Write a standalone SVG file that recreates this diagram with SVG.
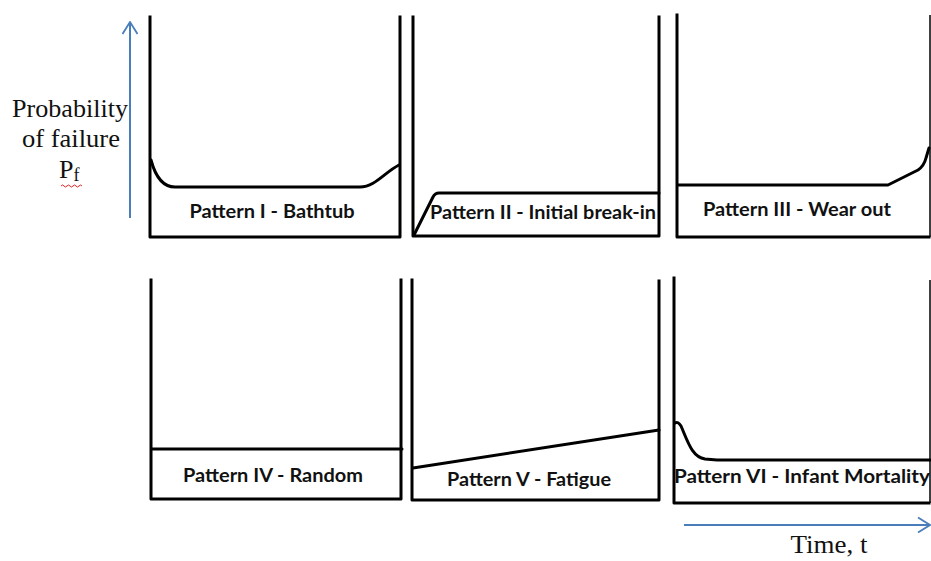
<svg xmlns="http://www.w3.org/2000/svg" width="931" height="561" viewBox="0 0 931 561">
<style>
.wall{fill:none;stroke:#000;stroke-width:3;stroke-linecap:square;stroke-linejoin:round}
.thin{fill:none;stroke:#000;stroke-width:1.5}
.curve{fill:none;stroke:#000;stroke-width:3;stroke-linejoin:round;stroke-linecap:round}
.lbl{font-family:Lato,"Open Sans","Liberation Sans",sans-serif;font-weight:bold;font-size:19px;fill:#111}
.ax{font-family:"Liberation Serif","Times New Roman",serif;font-size:26px;fill:#111}
.arrow{fill:none;stroke:#4a7ebb;stroke-width:2}
</style>
<defs>
<marker id="chev" viewBox="0 0 14 16" refX="13" refY="8" markerWidth="14" markerHeight="16" markerUnits="userSpaceOnUse" orient="auto">
<path d="M1,0.5 L13,8 L1,15.5" fill="none" stroke="#4a7ebb" stroke-width="1.8"/>
</marker>
</defs>
<rect width="931" height="561" fill="#fff"/>
<g id="axis-y">
<line class="arrow" x1="130" y1="218" x2="130" y2="22" marker-end="url(#chev)"/>
<text class="ax" x="70" y="117" text-anchor="middle" textLength="116" lengthAdjust="spacingAndGlyphs">Probability</text>
<text class="ax" x="71" y="147" text-anchor="middle" textLength="98" lengthAdjust="spacingAndGlyphs">of failure</text>
<text class="ax" x="59" y="178">P<tspan font-size="18" dy="3">f</tspan></text>
<path d="M61,186 q1.5,-2 3,0 t3,0 t3,0 t3,0 t3,0 t3,0 t3,0" fill="none" stroke="#d22" stroke-width="1"/>
</g>
<g id="axis-x">
<line class="arrow" x1="684" y1="525" x2="930" y2="525" marker-end="url(#chev)"/>
<text class="ax" x="829" y="553" text-anchor="middle" textLength="77" lengthAdjust="spacingAndGlyphs">Time, t</text>
</g>
<g id="p1">
<path class="wall" d="M150,17 V237 H400 V17"/>
<path class="curve" d="M151,160 C155,175 162,187 175,187 H360 C375,187 385,172 399,165"/>
<text class="lbl" x="272" y="218" text-anchor="middle" textLength="165" lengthAdjust="spacingAndGlyphs">Pattern I - Bathtub</text>
</g>
<g id="p2">
<path class="wall" d="M413,17 V236 H659 V17"/>
<path class="curve" d="M414,235 L433,197 Q435,193 439,193 H659"/>
<text class="lbl" x="543" y="219" text-anchor="middle" textLength="226" lengthAdjust="spacingAndGlyphs">Pattern II - Initial break-in</text>
</g>
<g id="p3">
<path class="wall" d="M677,15 V237 H929"/>
<line class="thin" x1="930" y1="15" x2="930" y2="237"/>
<path class="curve" d="M678,185 H888 L918,170 Q924,166 926,158 L929,148"/>
<text class="lbl" x="797" y="216" text-anchor="middle" textLength="188" lengthAdjust="spacingAndGlyphs">Pattern III - Wear out</text>
</g>
<g id="p4">
<path class="wall" d="M151,280 V499 H401 V280"/>
<line class="curve" x1="152" y1="449" x2="402" y2="449"/>
<text class="lbl" x="273" y="482" text-anchor="middle" textLength="180" lengthAdjust="spacingAndGlyphs">Pattern IV - Random</text>
</g>
<g id="p5">
<path class="wall" d="M412,280 V500 H659 V281"/>
<line class="curve" x1="413" y1="468" x2="659" y2="430"/>
<text class="lbl" x="529" y="486" text-anchor="middle" textLength="164" lengthAdjust="spacingAndGlyphs">Pattern V - Fatigue</text>
</g>
<g id="p6">
<path class="wall" d="M674,278 V503 H929"/>
<line class="thin" x1="930" y1="280" x2="930" y2="503"/>
<path class="curve" d="M675,423 Q678,421 681,426 C688,442 692,457 705,459 L717,460 H930"/>
<text class="lbl" x="802" y="483" text-anchor="middle" textLength="256" lengthAdjust="spacingAndGlyphs">Pattern VI - Infant Mortality</text>
</g>
</svg>
